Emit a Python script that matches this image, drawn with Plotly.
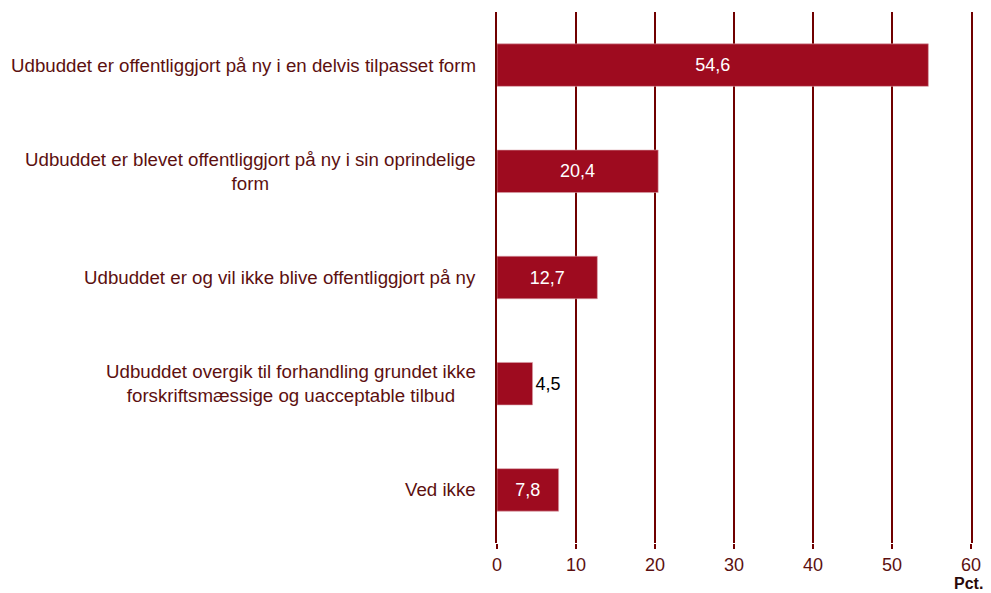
import plotly.graph_objects as go

categories = [
    "Udbuddet er offentliggjort på ny i en delvis tilpasset form",
    "Udbuddet er blevet offentliggjort på ny i sin oprindelige<br>form",
    "Udbuddet er og vil ikke blive offentliggjort på ny",
    "Udbuddet overgik til forhandling grundet ikke<br>forskriftsmæssige og uacceptable tilbud",
    "Ved ikke",
]
values = [54.6, 20.4, 12.7, 4.5, 7.8]
value_labels = ["54,6", "20,4", "12,7", "4,5", "7,8"]
tick_vals = [0, 10, 20, 30, 40, 50, 60]

BAR = "#9e0b1f"
GRID = "#700000"
TXT = "#5c1010"
FONT = "Liberation Sans, Arial, sans-serif"

positions = ["inside" if v > 6 else "outside" for v in values]
text_colors = ["white" if p == "inside" else "black" for p in positions]
idx = list(range(len(categories)))

fig = go.Figure(go.Bar(
    x=values, y=idx, orientation="h",
    marker=dict(color=BAR, line=dict(color="#d8a0a8", width=0.6)),
    text=value_labels, textposition=positions,
    insidetextanchor="middle",
    textfont=dict(family=FONT, size=18, color=text_colors),
    cliponaxis=False, hoverinfo="skip",
))

for i, c in enumerate(categories):
    fig.add_annotation(x=0, xref="paper", y=i, yref="y", text=c,
                       xanchor="right", yanchor="middle", align="center",
                       xshift=-19, showarrow=False,
                       font=dict(family=FONT, size=18.7, color=TXT))

fig.add_annotation(x=1, xref="paper", y=0, yref="paper", text="<b>Pct.</b>",
                   xanchor="right", yanchor="top", yshift=-30, xshift=14,
                   showarrow=False,
                   font=dict(family=FONT, size=16, color="#2a0a0a"))

fig.update_layout(
    width=983, height=585,
    margin=dict(l=489, r=20, t=4, b=50),
    paper_bgcolor="white", plot_bgcolor="white",
    bargap=0.6, showlegend=False,
    xaxis=dict(range=[0, 60], tickvals=tick_vals, showgrid=True,
               gridcolor=GRID, gridwidth=2, zeroline=False,
               showline=False, ticks="outside", ticklen=5, tickwidth=2,
               tickcolor=GRID,
               tickfont=dict(family=FONT, size=18, color=TXT)),
    yaxis=dict(range=[4.5, -0.5], showticklabels=False, showgrid=False,
               zeroline=False, showline=True, mirror=True,
               linecolor=GRID, linewidth=2, ticks=""),
)

fig.write_html("out.html")
